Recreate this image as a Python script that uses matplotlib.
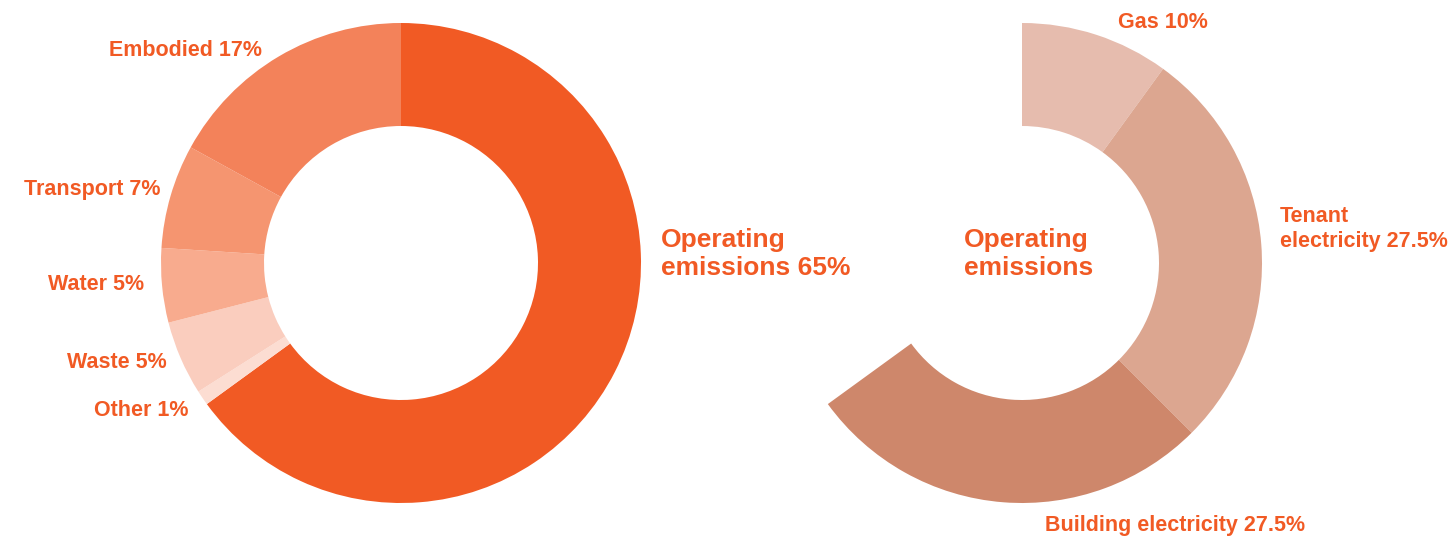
import matplotlib.pyplot as plt

# left donut: total footprint, clockwise from 12 o'clock
total_labels = ["Operating\nemissions 65%", "Other 1%", "Waste 5%", "Water 5%",
                "Transport 7%", "Embodied 17%"]
total_values = [65, 1, 5, 5, 7, 17]
total_colors = ["#F15A24", "#FCDDD2", "#FACDBE", "#F8AB8E", "#F59570", "#F3825A"]

# right donut: operating emissions split (65% of a full circle)
op_labels = ["Gas 10%", "Tenant\nelectricity 27.5%", "Building electricity 27.5%"]
op_values = [10, 27.5, 27.5]
op_colors = ["#E6BCAE", "#DCA690", "#CE876B"]

TEXT = "#F15A24"
W, H = 1449, 542

plt.rcParams["font.family"] = ["Liberation Sans", "DejaVu Sans"]

fig = plt.figure(figsize=(W / 100, H / 100), dpi=100)
ax = fig.add_axes([0, 0, 1, 1])

R, ring = 240, 103
left_c = (401, H - 263)
right_c = (1022, H - 263)

ax.pie(total_values, colors=total_colors, startangle=90, counterclock=False,
       center=left_c, radius=R, wedgeprops=dict(width=ring, linewidth=0),
       frame=True)

rest = 100 - sum(op_values)
ax.pie(op_values + [rest], colors=op_colors + ["none"], startangle=90,
       counterclock=False, center=right_c, radius=R,
       wedgeprops=dict(width=ring, linewidth=0), frame=True)
ax.set_xlim(0, W)
ax.set_ylim(0, H)
ax.set_aspect("equal")
ax.axis("off")

# label placement (pixel coords from top-left, alignment, size)
left_pos = [(661, 254, "left", 19), (189, 411, "right", 15.5),
            (167, 363, "right", 15.5), (144, 284, "right", 15.5),
            (160, 190, "right", 15.5), (262, 50, "right", 15.5)]
right_pos = [(1118, 22, "left", 15.5), (1280, 229, "left", 15.5),
             (1045, 525, "left", 15.5)]

kw = dict(color=TEXT, fontweight="bold", va="center")
for lbl, (x, y, ha, fs) in zip(total_labels + op_labels, left_pos + right_pos):
    ls = 1.17 if fs > 16 else 1.25
    ax.text(x, H - y, lbl, ha=ha, fontsize=fs, linespacing=ls, **kw)
ax.text(964, H - 254, "Operating\nemissions", ha="left", fontsize=19,
        linespacing=1.17, **kw)

fig.savefig("out.png", dpi=100, facecolor="white")
